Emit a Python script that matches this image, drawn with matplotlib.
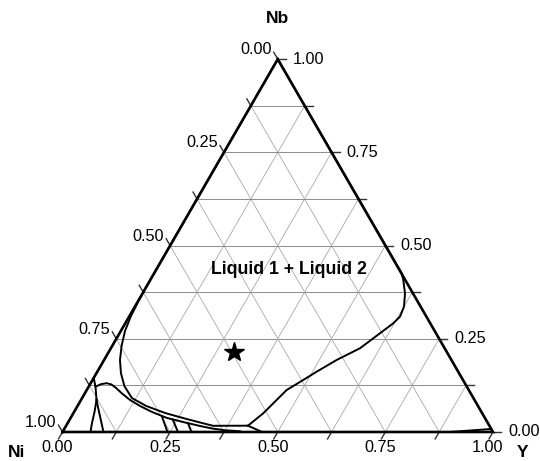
import matplotlib
matplotlib.use('Agg')
import matplotlib.pyplot as plt
import numpy as np

plt.rcParams['font.family'] = ['Liberation Sans', 'DejaVu Sans']

# ---------------- data (ternary fractions: Y, Nb; Ni = 1 - Y - Nb) ----------------
tick_values = [0.0, 0.25, 0.5, 0.75, 1.0]
tick_labels = ['0.00', '0.25', '0.50', '0.75', '1.00']
minor_steps = [0, 1, 2, 3, 4, 5, 6, 7, 8]   # ticks / grid every 1/8

# miscibility gap boundary (Liquid 1 + Liquid 2)
gap_Y = [0.0, 0.0, 0.001, 0.0035, 0.0097, 0.0217, 0.037, 0.0567, 0.0823, 0.1158,
         0.1591, 0.2126, 0.2665, 0.3067, 0.3413, 0.4224, 0.4413, 0.4512, 0.4645,
         0.4895, 0.5096, 0.5403, 0.5788, 0.6051, 0.6226, 0.6293, 0.6252, 0.6095,
         0.5877, 0.5750, 0.0]
gap_Nb = [1.0, 0.386, 0.349, 0.311, 0.271, 0.231, 0.193, 0.158, 0.123, 0.091,
          0.070, 0.051, 0.036, 0.0255, 0.0166, 0.0169, 0.0502, 0.0770, 0.1127,
          0.1395, 0.1618, 0.1932, 0.2246, 0.2648, 0.2917, 0.3094, 0.3362, 0.3722,
          0.4078, 0.4258, 1.0]

# inner boundary near the Ni corner (hump curve)
hump_Y = [0.0159, 0.0253, 0.0372, 0.0501, 0.0653, 0.0865, 0.1139, 0.1451, 0.1811,
          0.2239, 0.2719, 0.3114, 0.3426, 0.3752, 0.4113]
hump_Nb = [0.1215, 0.1283, 0.1309, 0.1274, 0.1181, 0.1033, 0.0859, 0.0698, 0.0537,
           0.0376, 0.0255, 0.0161, 0.0094, 0.0046, 0.0019]

# stem from the Ni-Nb edge and its two branches
stem_Y = [0.0, 0.0159, 0.0361]
stem_Nb = [0.1449, 0.1215, 0.0859]
branchL_Y = [0.0361, 0.0475, 0.0564, 0.0650]
branchL_Nb = [0.0859, 0.0537, 0.0241, 0.0]
branchR_Y = [0.0361, 0.0580, 0.0785, 0.0952]
branchR_Nb = [0.0859, 0.0537, 0.0241, 0.0]

# short legs down to the Ni-Y edge
leg1_Y = [0.2103, 0.2439]
leg1_Nb = [0.0416, 0.0]
leg2_Y = [0.2392, 0.2683]
leg2_Nb = [0.0335, 0.0]
leg3_Y = [0.2797, 0.2997]
leg3_Nb = [0.0236, 0.0]
leg4_Y = [0.4224, 0.4634]
leg4_Nb = [0.0169, 0.0]

# sliver near the Y corner
sliver_Y = [0.90, 0.94, 0.991, 1.0]
sliver_Nb = [0.0, 0.0035, 0.008, 0.0]

# marked alloy composition
star_Y = [0.290]
star_Nb = [0.215]

region_label = 'Liquid 1 + Liquid 2'
label_Y = 0.308
label_Nb = 0.435

# ---------------- helpers ----------------
S3 = np.sqrt(3) / 2
PX = 1 / 430.5  # one pixel in data units


def xy(Y, Nb):
    Y = np.asarray(Y, float)
    Nb = np.asarray(Nb, float)
    return Y + Nb / 2, Nb * S3


fig = plt.figure(figsize=(5.4, 4.61), dpi=100)
ax = fig.add_axes([0, 0, 1, 1])
ax.set_xlim(-0.1452, 1.1092)
ax.set_ylim(-0.0674, 1.0035)
ax.axis('off')

# grid lines
for k in minor_steps[1:-1]:
    f = k / 8
    x, y = xy([0, 1 - f], [f, f])              # constant Nb (horizontal)
    ax.plot(x, y, color='#8c8c8c', lw=0.7, zorder=1)
    x, y = xy([f, f], [0, 1 - f])              # constant Y
    ax.plot(x, y, color='#a8a8a8', lw=0.6, zorder=1)
    x, y = xy([1 - f, 0], [0, 1 - f])          # constant Ni
    ax.plot(x, y, color='#a8a8a8', lw=0.6, zorder=1)

# ticks
L = 8 * PX
for k in minor_steps:
    f = k / 8
    # right side (Nb)
    x0, y0 = xy(1 - f, f)
    ax.plot([x0, x0 + L], [y0, y0], color='#333333', lw=1.0, zorder=2)
    # left side (Ni)
    x0, y0 = xy(0, 1 - f)
    ax.plot([x0, x0 - 0.5 * L], [y0, y0 + S3 * L], color='#333333', lw=1.0, zorder=2)
    # bottom (Y)
    x0, y0 = xy(f, 0)
    ax.plot([x0, x0 - 0.5 * L], [y0, y0 - S3 * L], color='#333333', lw=1.0, zorder=2)

# tick labels
fs = 11.7
for v, t in zip(tick_values, tick_labels):
    x0, y0 = xy(1 - v, v)
    ax.text(x0 + 15 * PX, y0, t, ha='left', va='center', fontsize=fs)
    x0, y0 = xy(0, 1 - v)
    ax.text(x0 - 6 * PX, y0 + 9.5 * PX, t, ha='right', va='center', fontsize=fs)
    x0, y0 = xy(v, 0)
    ax.text(x0 - 5 * PX, y0 - 16 * PX, t, ha='center', va='center', fontsize=fs)

# axis titles
tfs = 12.5
ax.text(0.5, 414 * PX, 'Nb', ha='center', va='center', fontsize=tfs, fontweight='bold')
ax.text(-45.5 * PX, -21 * PX, 'Ni', ha='center', va='center', fontsize=tfs, fontweight='bold')
ax.text(1 + 30 * PX, -21 * PX, 'Y', ha='center', va='center', fontsize=tfs, fontweight='bold')

# triangle
x, y = xy([0, 1, 0, 0], [0, 0, 1, 0])
ax.plot(x, y, color='black', lw=1.9, zorder=4, solid_joinstyle='miter')

# phase boundaries
curves = [(gap_Y, gap_Nb), (hump_Y, hump_Nb), (stem_Y, stem_Nb),
          (branchL_Y, branchL_Nb), (branchR_Y, branchR_Nb),
          (leg1_Y, leg1_Nb), (leg2_Y, leg2_Nb), (leg3_Y, leg3_Nb), (leg4_Y, leg4_Nb),
          (sliver_Y, sliver_Nb)]
for cy, cn in curves:
    x, y = xy(cy, cn)
    ax.plot(x, y, color='black', lw=1.4, zorder=3, solid_joinstyle='round')

# star
x, y = xy(star_Y, star_Nb)
ax.plot(x, y, marker='*', ms=15, color='black', ls='none', zorder=5)

# region label
x, y = xy(label_Y, label_Nb)
ax.text(float(x), float(y), region_label, ha='center', va='center', fontsize=12.8,
        fontweight='bold')

fig.savefig('out.png', dpi=100)
